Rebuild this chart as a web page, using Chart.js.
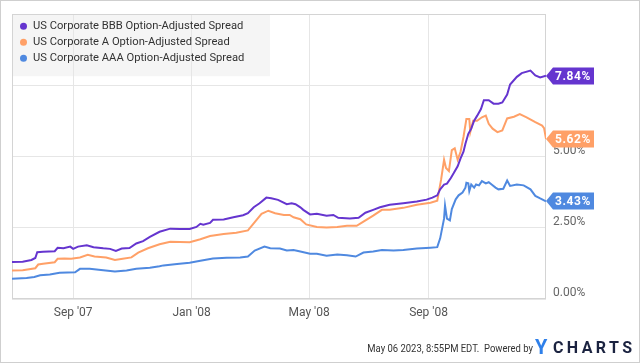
<!DOCTYPE html>
<html><head><meta charset="utf-8">
<script src="https://cdn.jsdelivr.net/npm/chart.js@4.4.0/dist/chart.umd.min.js"></script>
<style>html,body{margin:0;padding:0;background:#fff}#wrap{width:640px;height:363px;position:relative}</style>
</head><body><div id="wrap"><canvas id="c" width="640" height="363"></canvas></div>
<script>
// ---- data (x = days since 2007-07-01, y = percent) ----
const seriesNames = ["US Corporate BBB Option-Adjusted Spread","US Corporate A Option-Adjusted Spread","US Corporate AAA Option-Adjusted Spread"];
const seriesColors = ["#6535cf","#ffa067","#4f89e0"];

const bbbDays   = [-1,10,19,23,25,31,43,46,52,59,62,67,76,83,93,100,106,112,120,127,134,141,151,162,172,182,189,193,196,203,206,217,227,237,242,248,254,261,266,273,282,287,291,296,299,306,313,323,330,335,347,356,363,371,378,388,402,416,426,432,437,440,444,447,451,454,458,461,464,466,469,472,475,478,482,485,490,495,500,504,509,512,519,524,533,538,543,549];
const bbbValues = [1.30,1.31,1.37,1.44,1.64,1.66,1.68,1.80,1.78,1.84,1.76,1.84,1.89,1.82,1.78,1.76,1.69,1.77,1.79,1.95,2.03,2.18,2.36,2.47,2.46,2.46,2.53,2.64,2.61,2.67,2.78,2.79,2.87,2.94,3.01,3.22,3.36,3.56,3.54,3.48,3.33,3.36,3.33,3.22,3.13,2.97,2.99,2.92,2.95,2.85,2.83,2.85,3.03,3.13,3.22,3.31,3.36,3.42,3.49,3.56,3.64,3.85,4.02,4.05,4.25,4.42,4.66,4.94,5.17,5.45,5.80,5.98,6.26,6.43,6.67,6.98,6.98,6.86,6.86,6.90,7.18,7.53,7.80,7.93,8.02,7.85,7.78,7.84];

const aDays   = [-1,10,23,26,31,43,46,53,60,69,77,84,96,105,113,122,129,139,151,162,182,193,203,217,230,242,249,256,263,270,279,285,289,296,302,313,323,334,344,354,361,371,380,388,402,416,430,437,441,444,446,449,452,455,458,461,464,467,470,471,474,478,483,487,490,494,499,504,509,516,522,529,538,545,547,549];
const aValues = [1.00,1.01,1.08,1.21,1.24,1.29,1.41,1.42,1.41,1.46,1.55,1.49,1.46,1.37,1.41,1.46,1.63,1.78,1.92,2.01,1.99,2.10,2.21,2.28,2.33,2.41,2.70,2.99,3.10,3.01,2.95,2.95,2.87,2.80,2.62,2.53,2.51,2.53,2.57,2.57,2.72,2.93,3.13,3.13,3.20,3.31,3.38,3.45,4.20,4.89,4.60,4.49,5.23,5.29,4.89,5.17,5.69,6.32,6.32,5.86,6.26,6.26,6.38,6.44,6.15,5.98,5.86,5.92,6.34,6.40,6.49,6.38,6.21,6.09,6.00,5.62];

const aaaDays   = [-1,14,22,28,38,48,64,69,79,93,105,117,127,141,151,155,169,182,193,206,220,234,242,249,259,265,275,282,289,296,306,313,323,334,344,353,361,371,380,392,402,416,430,437,440,444,445,447,450,452,456,459,463,466,467,469,470,472,475,477,480,483,487,490,493,497,500,505,509,512,519,526,533,538,543,549];
const aaaValues = [0.71,0.74,0.77,0.83,0.86,0.92,0.94,1.06,1.06,1.01,0.97,1.00,1.06,1.10,1.15,1.18,1.23,1.27,1.34,1.42,1.45,1.46,1.49,1.70,1.84,1.78,1.77,1.70,1.72,1.67,1.59,1.59,1.52,1.56,1.54,1.49,1.63,1.67,1.72,1.70,1.72,1.77,1.80,1.82,2.13,2.82,3.28,2.82,2.76,3.16,3.50,3.64,3.74,3.91,4.08,4.06,3.79,4.02,3.91,4.02,3.99,4.14,4.06,4.10,4.02,3.91,3.85,3.87,4.16,3.97,4.02,3.99,3.85,3.62,3.53,3.43];

const xTickDays   = [62,184,305,428];
const xTickLabels = ["Sep '07","Jan '08","May '08","Sep '08"];
const yTickValues = [0,2.5,5,7.5,10];
const yTickShown  = [0,2.5,5];
const footerText  = "May 06 2023, 8:55PM EDT.  Powered by";

// ---- build ----
const allDays = [bbbDays,aDays,aaaDays];
const allVals = [bbbValues,aValues,aaaValues];
const datasets = seriesNames.map((n,i)=>({
  label:n,
  data: allDays[i].map((d,k)=>({x:d,y:allVals[i][k]})),
  borderColor:seriesColors[i],
  backgroundColor:seriesColors[i],
  borderWidth:2,
  pointRadius:0,
  tension:0,
  fill:false,
  order:i
}));

const FONT = "Roboto, 'Liberation Sans', sans-serif";

const framePlugin = {
  id:'frame',
  beforeDraw(chart){
    const ctx=chart.ctx;
    ctx.save();
    ctx.fillStyle='#fff';ctx.fillRect(0,0,chart.width,chart.height);
    ctx.strokeStyle='#cfcfcf';ctx.lineWidth=1;
    ctx.strokeRect(0.5,0.5,chart.width-1,chart.height-1);
    ctx.fillStyle='#f5f5f5';
    ctx.fillRect(chart.chartArea.left,chart.chartArea.top,258,62);
    ctx.restore();
  },
  beforeDatasetsDraw(chart){
    const {ctx,chartArea:a}=chart;
    ctx.save();
    ctx.strokeStyle='#d4d4d4';ctx.lineWidth=1;
    ctx.strokeRect(Math.round(a.left)+0.5,Math.round(a.top)+0.5,Math.round(a.right-a.left)-1,Math.round(a.bottom-a.top)-1);
    ctx.restore();
  },
  afterDatasetsDraw(chart){
    const {ctx,chartArea:a}=chart;
    ctx.save();
    ctx.font="11.2px "+FONT;
    ctx.textBaseline='middle';
    chart.data.datasets.forEach((ds,i)=>{
      const y=a.top+12+i*16;
      ctx.fillStyle=ds.borderColor;
      ctx.beginPath();ctx.arc(a.left+11.5,y,3.5,0,Math.PI*2);ctx.fill();
      ctx.fillStyle='#333';
      ctx.fillText(ds.label,a.left+21,y);
    });
    ctx.restore();
  },
  afterDraw(chart){
    const {ctx,chartArea:a}=chart;
    const ys=chart.scales.y;
    ctx.save();
    chart.data.datasets.forEach((ds)=>{
      const last=ds.data[ds.data.length-1];
      const cy=Math.round(ys.getPixelForValue(last.y));
      const x0=a.right, h=17;
      ctx.fillStyle=ds.borderColor;
      ctx.beginPath();
      ctx.moveTo(x0,cy);
      ctx.lineTo(x0+7,cy-h/2);
      ctx.lineTo(x0+48,cy-h/2);
      ctx.lineTo(x0+48,cy+h/2);
      ctx.lineTo(x0+7,cy+h/2);
      ctx.closePath();ctx.fill();
      ctx.fillStyle='#fff';
      ctx.font="bold 12px "+FONT;
      ctx.textAlign='center';ctx.textBaseline='middle';
      try{ctx.letterSpacing='0.6px';}catch(e){}
      ctx.fillText(last.y.toFixed(2)+'%',x0+27,cy+0.5);
      try{ctx.letterSpacing='0px';}catch(e){}
    });
    // footer (condensed)
    ctx.save();
    ctx.translate(533,349);
    ctx.scale(0.86,1);
    ctx.fillStyle='#333';
    ctx.font="11px "+FONT;
    ctx.textAlign='right';ctx.textBaseline='middle';
    ctx.fillText(footerText,0,0);
    ctx.restore();
    ctx.textAlign='left';ctx.textBaseline='middle';
    ctx.fillStyle='#2f80ea';
    ctx.font="bold 20px "+FONT;
    ctx.fillText('Y',535,349);
    ctx.fillStyle='#1b2340';
    ctx.font="bold 16px "+FONT;
    try{ctx.letterSpacing='3.4px';}catch(e){}
    ctx.fillText('CHARTS',553,349);
    ctx.restore();
  }
};

new Chart(document.getElementById('c'),{
  type:'line',
  data:{datasets},
  options:{
    responsive:false,
    animation:false,
    devicePixelRatio:1,
    layout:{padding:{top:12,left:12,right:0,bottom:0}},
    plugins:{legend:{display:false},tooltip:{enabled:false}},
    scales:{
      x:{
        type:'linear',min:-1,max:549,
        afterBuildTicks(axis){axis.ticks=xTickDays.map(v=>({value:v}));},
        afterFit(axis){axis.height=64;},
        grid:{color:'#e6e6e6',drawTicks:false,lineWidth:1},
        border:{display:false},
        ticks:{padding:7,color:'#555',font:{family:FONT,size:12},maxRotation:0,autoSkip:false,
          callback(v){const i=xTickDays.indexOf(v);return i>=0?xTickLabels[i]:'';}}
      },
      y:{
        position:'right',min:0,max:10,
        afterBuildTicks(axis){axis.ticks=yTickValues.map(v=>({value:v}));},
        afterFit(axis){axis.width=94;},
        grid:{color:'#e6e6e6',drawTicks:false,lineWidth:1},
        border:{display:false},
        ticks:{padding:7,labelOffset:-6,color:'#666',font:{family:FONT,size:12},
          callback(v){return yTickShown.includes(v)?v.toFixed(2)+'%':'';}}
      }
    }
  },
  plugins:[framePlugin]
});
</script></body></html>
